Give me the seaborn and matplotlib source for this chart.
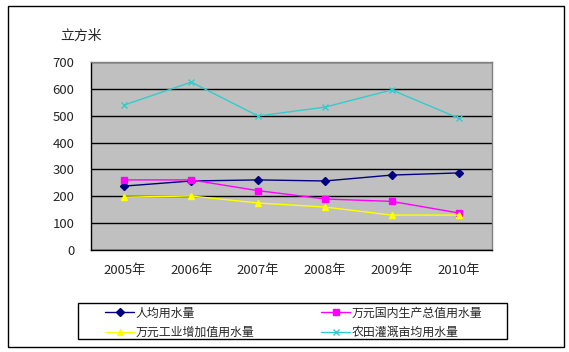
import pandas as pd
import seaborn as sns
import matplotlib.pyplot as plt
from matplotlib.patches import Rectangle

# Data
years = ["2005年", "2006年", "2007年", "2008年", "2009年", "2010年"]
per_capita = [238, 257, 261, 257, 279, 287]
per_gdp = [261, 261, 221, 190, 181, 138]
per_industry = [197, 201, 175, 160, 130, 130]
per_mu = [540, 625, 499, 532, 596, 491]

series_names = ["人均用水量", "万元国内生产总值用水量", "万元工业增加值用水量", "农田灌溉亩均用水量"]
series_values = [per_capita, per_gdp, per_industry, per_mu]
colors = ["#000080", "#FF00FF", "#FFFF00", "#33CCCC"]
markers = ["D", "s", "^", "x"]
msizes = [4, 5, 5, 4]

sns.set_style("white")
plt.rcParams['font.family'] = ['Noto Sans CJK SC', 'DejaVu Sans']

W, H = 569, 352
fig = plt.figure(figsize=(W / 100, H / 100), dpi=100)
# outer chart border
fig.patches.append(Rectangle((8 / W, 5 / H), 556 / W, 341 / H, transform=fig.transFigure,
                             fill=False, edgecolor="black", linewidth=1.0))

ax = fig.add_axes([91 / W, 1 - 250 / H, 401 / W, 188 / H])
ax.set_facecolor("#C0C0C0")

x = list(range(len(years)))
for name, vals, c, m, ms in zip(series_names, series_values, colors, markers, msizes):
    sns.lineplot(x=x, y=vals, ax=ax, color=c, marker=m, markersize=ms, markeredgecolor=c,
                 markeredgewidth=1.0, linewidth=1.0, label=name)

ax.set_xlim(-0.5, 5.5)
ax.set_ylim(0, 700)
ax.set_yticks(range(0, 701, 100))
ax.yaxis.grid(True, color="black", linewidth=1.0)
ax.set_axisbelow(True)
ax.set_xticks(x)
ax.set_xticklabels(years, fontsize=9.5)
ax.set_xticks([i - 0.5 for i in range(len(years) + 1)], minor=True)
ax.tick_params(axis="x", which="major", length=0, pad=10)
ax.tick_params(axis="x", which="minor", length=4, direction="out", color="black", width=1)
ax.tick_params(axis="y", length=4, direction="out", color="black", width=1, labelsize=9.5, pad=8)
for s in ["left", "bottom"]:
    ax.spines[s].set_color("black")
    ax.spines[s].set_linewidth(1.0)
for s in ["top", "right"]:
    ax.spines[s].set_color("#808080")
    ax.spines[s].set_linewidth(1.0)

fig.text(60 / W, 1 - 36 / H, "立方米", fontsize=10, va="center", ha="left")

# legend frame drawn separately, entries placed inside it
fig.patches.append(Rectangle((78 / W, 1 - 339 / H), 429 / W, 36 / H, transform=fig.transFigure,
                             fill=False, edgecolor="black", linewidth=1.0))
handles, labels = ax.get_legend_handles_labels()
order = [0, 2, 1, 3]  # row-wise fill like the original
ax.legend([handles[i] for i in order], [labels[i] for i in order],
          loc="upper left", bbox_to_anchor=(103 / W, 1 - 304 / H),
          bbox_transform=fig.transFigure, ncol=2, fontsize=8.6, frameon=False,
          handlelength=2.4, borderpad=0, labelspacing=0.55, handletextpad=0.15,
          columnspacing=5.6, borderaxespad=0.2)

plt.savefig("out.png", dpi=100)
